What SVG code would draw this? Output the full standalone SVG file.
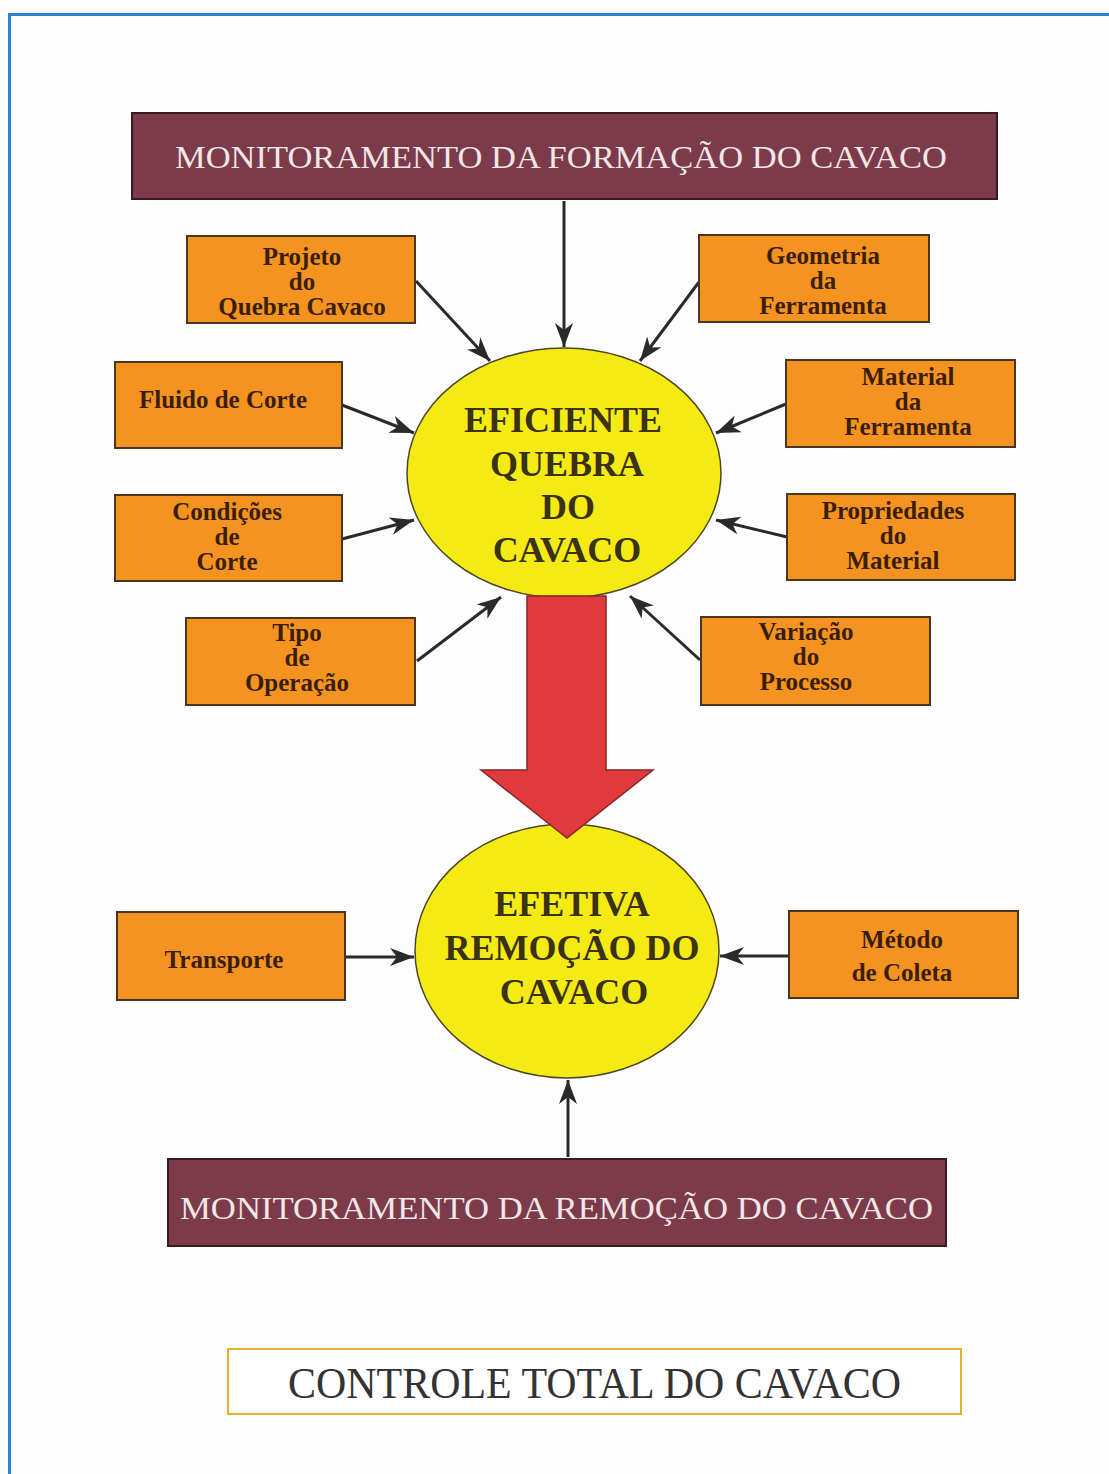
<svg xmlns="http://www.w3.org/2000/svg" width="1109" height="1474" viewBox="0 0 1109 1474">
<style>
.box{fill:#F4931F;stroke:#4a3520;stroke-width:2}
.bt{font-family:"Liberation Serif",serif;font-weight:bold;font-size:25px;fill:#3b1e08;text-anchor:middle}
.ell{fill:#F5EB14;stroke:#4d4620;stroke-width:1.5}
.et{font-family:"Liberation Serif",serif;font-weight:bold;font-size:36px;fill:#3a3212;text-anchor:middle}
.ban{fill:#7B3B4A;stroke:#3a1a20;stroke-width:2}
.bn{font-family:"Liberation Serif",serif;font-size:31px;fill:#f3e6e6}
.con{stroke:#2a2a2a;stroke-width:3;fill:none;marker-end:url(#ah)}
</style>
<defs>
<marker id="ah" markerUnits="userSpaceOnUse" markerWidth="26" markerHeight="20" refX="24" refY="9" orient="auto">
<path d="M0,0 L24,9 L0,18 L7,9 z" fill="#2a2a2a"/>
</marker>
</defs>
<rect x="0" y="0" width="1109" height="1474" fill="#fdfdfd"/>
<path d="M9.5,1474 V14.5 H1109" fill="none" stroke="#2d7fd0" stroke-width="3"/>

<g id="banner-top">
<rect class="ban" x="132" y="113" width="865" height="86"/>
<text class="bn" x="175" y="168" textLength="772" lengthAdjust="spacingAndGlyphs">MONITORAMENTO DA FORMAÇÃO DO CAVACO</text>
</g>

<g id="connectors">
<line class="con" x1="564" y1="201" x2="564" y2="347"/>
<line class="con" x1="416" y1="281" x2="490" y2="361"/>
<line class="con" x1="699" y1="282" x2="640" y2="361"/>
<line class="con" x1="342" y1="405" x2="414" y2="433"/>
<line class="con" x1="786" y1="404" x2="716" y2="433"/>
<line class="con" x1="342" y1="539" x2="414" y2="520"/>
<line class="con" x1="787" y1="537" x2="716" y2="520"/>
<line class="con" x1="417" y1="661" x2="501" y2="597"/>
<line class="con" x1="700" y1="660" x2="630" y2="596"/>
<line class="con" x1="345" y1="957" x2="414" y2="957"/>
<line class="con" x1="789" y1="956" x2="720" y2="956"/>
<line class="con" x1="568" y1="1157" x2="568" y2="1080"/>
</g>

<g id="box-projeto">
<rect class="box" x="187" y="236" width="228" height="87"/>
<text class="bt" x="302" y="265">Projeto</text>
<text class="bt" x="302" y="290">do</text>
<text class="bt" x="302" y="315">Quebra Cavaco</text>
</g>
<g id="box-geometria">
<rect class="box" x="699" y="235" width="230" height="87"/>
<text class="bt" x="823" y="264">Geometria</text>
<text class="bt" x="823" y="289">da</text>
<text class="bt" x="823" y="314">Ferramenta</text>
</g>
<g id="box-fluido">
<rect class="box" x="115" y="362" width="227" height="86"/>
<text class="bt" x="223" y="408">Fluido de Corte</text>
</g>
<g id="box-material-ferramenta">
<rect class="box" x="786" y="360" width="229" height="87"/>
<text class="bt" x="908" y="385">Material</text>
<text class="bt" x="908" y="410">da</text>
<text class="bt" x="908" y="435">Ferramenta</text>
</g>
<g id="box-condicoes">
<rect class="box" x="115" y="495" width="227" height="86"/>
<text class="bt" x="227" y="520">Condições</text>
<text class="bt" x="227" y="545">de</text>
<text class="bt" x="227" y="570">Corte</text>
</g>
<g id="box-propriedades">
<rect class="box" x="787" y="494" width="228" height="86"/>
<text class="bt" x="893" y="519">Propriedades</text>
<text class="bt" x="893" y="544">do</text>
<text class="bt" x="893" y="569">Material</text>
</g>
<g id="box-tipo">
<rect class="box" x="186" y="618" width="229" height="87"/>
<text class="bt" x="297" y="641">Tipo</text>
<text class="bt" x="297" y="666">de</text>
<text class="bt" x="297" y="691">Operação</text>
</g>
<g id="box-variacao">
<rect class="box" x="701" y="617" width="229" height="88"/>
<text class="bt" x="806" y="640">Variação</text>
<text class="bt" x="806" y="665">do</text>
<text class="bt" x="806" y="690">Processo</text>
</g>

<g id="ellipse-quebra">
<ellipse class="ell" cx="564" cy="473" rx="157" ry="125"/>
<text class="et" x="563" y="432">EFICIENTE</text>
<text class="et" x="567" y="476">QUEBRA</text>
<text class="et" x="568" y="519">DO</text>
<text class="et" x="567" y="562">CAVACO</text>
</g>

<g id="ellipse-remocao">
<ellipse class="ell" cx="567" cy="951" rx="152" ry="127"/>
<text class="et" x="572" y="916">EFETIVA</text>
<text class="et" x="572" y="960">REMOÇÃO DO</text>
<text class="et" x="574" y="1004">CAVACO</text>
</g>

<g id="big-arrow">
<path d="M527,596 H606 V770 H653 L567,838 L481,770 H527 Z" fill="#E03A3E" stroke="#8a2226" stroke-width="1.5"/>
</g>

<g id="box-transporte">
<rect class="box" x="117" y="912" width="228" height="88"/>
<text class="bt" x="224" y="968">Transporte</text>
</g>
<g id="box-metodo">
<rect class="box" x="789" y="911" width="229" height="87"/>
<text class="bt" x="902" y="948">Método</text>
<text class="bt" x="902" y="981">de Coleta</text>
</g>

<g id="banner-bottom">
<rect class="ban" x="168" y="1159" width="778" height="87"/>
<text class="bn" x="180" y="1219" textLength="753" lengthAdjust="spacingAndGlyphs">MONITORAMENTO DA REMOÇÃO DO CAVACO</text>
</g>

<g id="controle">
<rect x="228" y="1349" width="733" height="65" fill="#ffffff" stroke="#E8B030" stroke-width="2"/>
<text x="288" y="1398" font-family="Liberation Serif, serif" font-size="44" fill="#333333" textLength="613" lengthAdjust="spacingAndGlyphs">CONTROLE TOTAL DO CAVACO</text>
</g>
</svg>
